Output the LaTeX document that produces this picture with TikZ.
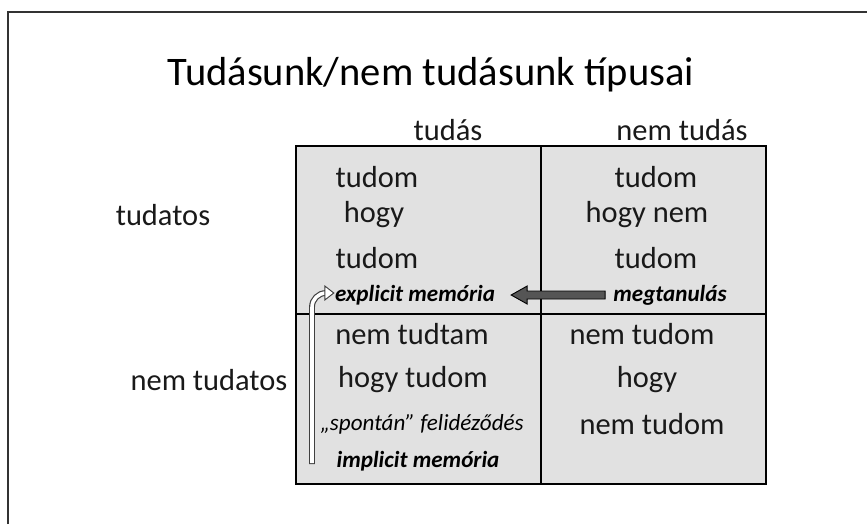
\documentclass[tikz,border=0pt]{standalone}
\usepackage{fontspec}
\setmainfont{Carlito}
\usetikzlibrary{calc}
\definecolor{cellgray}{HTML}{E1E1E1}
\definecolor{arrowgray}{HTML}{555555}
\tikzstyle{cell}=[fill=cellgray, draw=black, line width=1pt]
\tikzstyle{big}=[font=\fontsize{26}{29}\selectfont, inner sep=0pt, text=black!90]
\tikzstyle{note}=[font=\fontsize{19.7}{22}\selectfont\bfseries\itshape, inner sep=0pt]
\tikzstyle{quote}=[font=\fontsize{19.7}{22}\selectfont\itshape, inner sep=0pt]
\tikzstyle{blockarrow}=[fill=arrowgray, draw=black, line width=0.8pt]

\begin{document}
\begin{tikzpicture}[x=0.03cm, y=-0.03cm]
    \useasboundingbox (0,0) rectangle (867,524);
    % the slide frame
    \draw[line width=1.5pt, black!80] (8,524) -- (8,12) -- (867,12);
    \node[font=\fontsize{34.6}{40}\selectfont, inner sep=0pt] (title) at (431,75) {Tudásunk/nem tudásunk típusai};
    % the four cells
    \path[cell] (296,146) rectangle (766,484);
    \draw[line width=1pt] (541,146) -- (541,484) (296,314) -- (766,314);
    % headers and cell texts
    \foreach \pos/\name/\txt in {{(448,130)/hknow/tudás}, {(682,130)/hnot/nem tudás},
            {(163,215)/rcons/tudatos}, {(209,380)/runcons/nem tudatos},
            {(377,177)/a1/tudom}, {(374,215)/a2/hogy}, {(377,258)/a3/tudom},
            {(656,177)/b1/tudom}, {(647,215)/b2/hogy nem}, {(656,258)/b3/tudom},
            {(412,334)/c1/nem tudtam}, {(413,380)/c2/hogy tudom},
            {(642,334)/d1/nem tudom}, {(647,380)/d2/hogy}, {(652,424)/d3/nem tudom}}
        \node[big] (\name) at \pos {\txt};
    \node[note] (expl) at (415,295) {explicit memória};
    \node[note] (megt) at (670,295) {megtanulás};
    \node[quote] (spont) at (422,424) {„spontán” felidéződés};
    \node[note] (impl) at (418,461) {implicit memória};
    % learning arrow
    \coordinate (tail) at ($(megt.west)+(-8,0)$);
    \coordinate (tip) at ($(expl.east)+(16,0)$);
    \filldraw[blockarrow] ($(tail)+(0,-4)$) -- ($(tip)+(16,-4)$) -- ($(tip)+(16,-9)$) -- (tip)
        -- ($(tip)+(16,9)$) -- ($(tip)+(16,4)$) -- ($(tail)+(0,4)$) -- cycle;
    % recall arrow
    \coordinate (start) at (312,463);
    \coordinate (head) at ($(expl.west)+(-10,-2)$);
    \draw[line width=5pt, black!75, rounded corners=12] ($(start)+(0,1)$) |- (head);
    \draw[line width=3pt, white, rounded corners=12] (start) |- ($(head)+(1,0)$);
    \filldraw[fill=white, draw=black!75, line width=0.8pt] ($(head)+(0,-7)$) -- ($(expl.west)+(-1,-2)$) -- ($(head)+(0,7)$) -- cycle;
\end{tikzpicture}
\end{document}
